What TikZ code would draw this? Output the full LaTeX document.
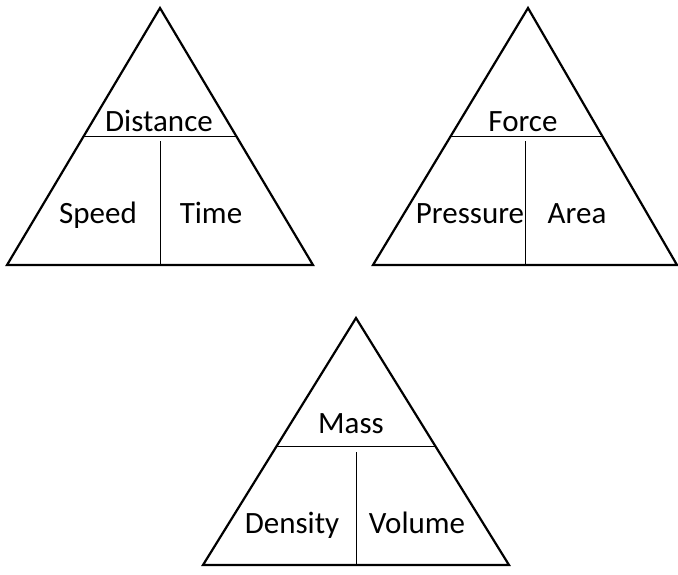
\documentclass[tikz,border=0pt]{standalone}
\usepackage{fontspec}
\setmainfont{Carlito}
\usetikzlibrary{calc}

\tikzset{
  tri/.style={draw, line width=2.2pt, line join=miter},
  split/.style={draw, line width=0.9pt},
  qty/.style={font=\fontsize{31}{35}\selectfont, inner sep=0pt, anchor=base}
}

\begin{document}
\begin{tikzpicture}[x=1pt,y=-1pt]
\useasboundingbox (0,0) rectangle (678,575);

% distance = speed x time
\coordinate (dtop) at (160,8);
\coordinate (dl) at (7,265);
\coordinate (dr) at (313,265);
\draw[tri] (dtop) -- (dl) -- (dr) -- cycle;
\draw[split] ($(dtop)!0.5!(dl)$) -- ($(dtop)!0.5!(dr)$);
\draw[split] ($(dl)!0.5!(dr)$) -- ++(0,-124);
\node[qty] (dist) at (159,131.5) {Distance};
\node[qty] (speed) at (98,223) {Speed};
\node[qty] (time) at (211,223) {Time};

% force = pressure x area
\coordinate (ftop) at (528,8);
\coordinate (fl) at (373,265);
\coordinate (fr) at (677,265);
\draw[tri] (ftop) -- (fl) -- (fr) -- cycle;
\draw[split] ($(ftop)!0.5!(fl)$) -- ($(ftop)!0.5!(fr)$);
\draw[split] ($(fl)!0.5!(fr)$) -- ++(0,-124);
\node[qty] (force) at (523,131.5) {Force};
\node[qty] (press) at (470,224) {Pressure};
\node[qty] (area) at (577,224) {Area};

% mass = density x volume
\coordinate (mtop) at (356,318);
\coordinate (ml) at (203,565);
\coordinate (mr) at (509,565);
\draw[tri] (mtop) -- (ml) -- (mr) -- cycle;
\draw[split] ($(mtop)!0.52!(ml)$) -- ($(mtop)!0.52!(mr)$);
\draw[split] ($(ml)!0.5!(mr)$) -- ++(0,-113);
\node[qty] (mass) at (351,433) {Mass};
\node[qty] (dens) at (292,533) {Density};
\node[qty] (vol) at (417,533) {Volume};
\end{tikzpicture}
\end{document}
